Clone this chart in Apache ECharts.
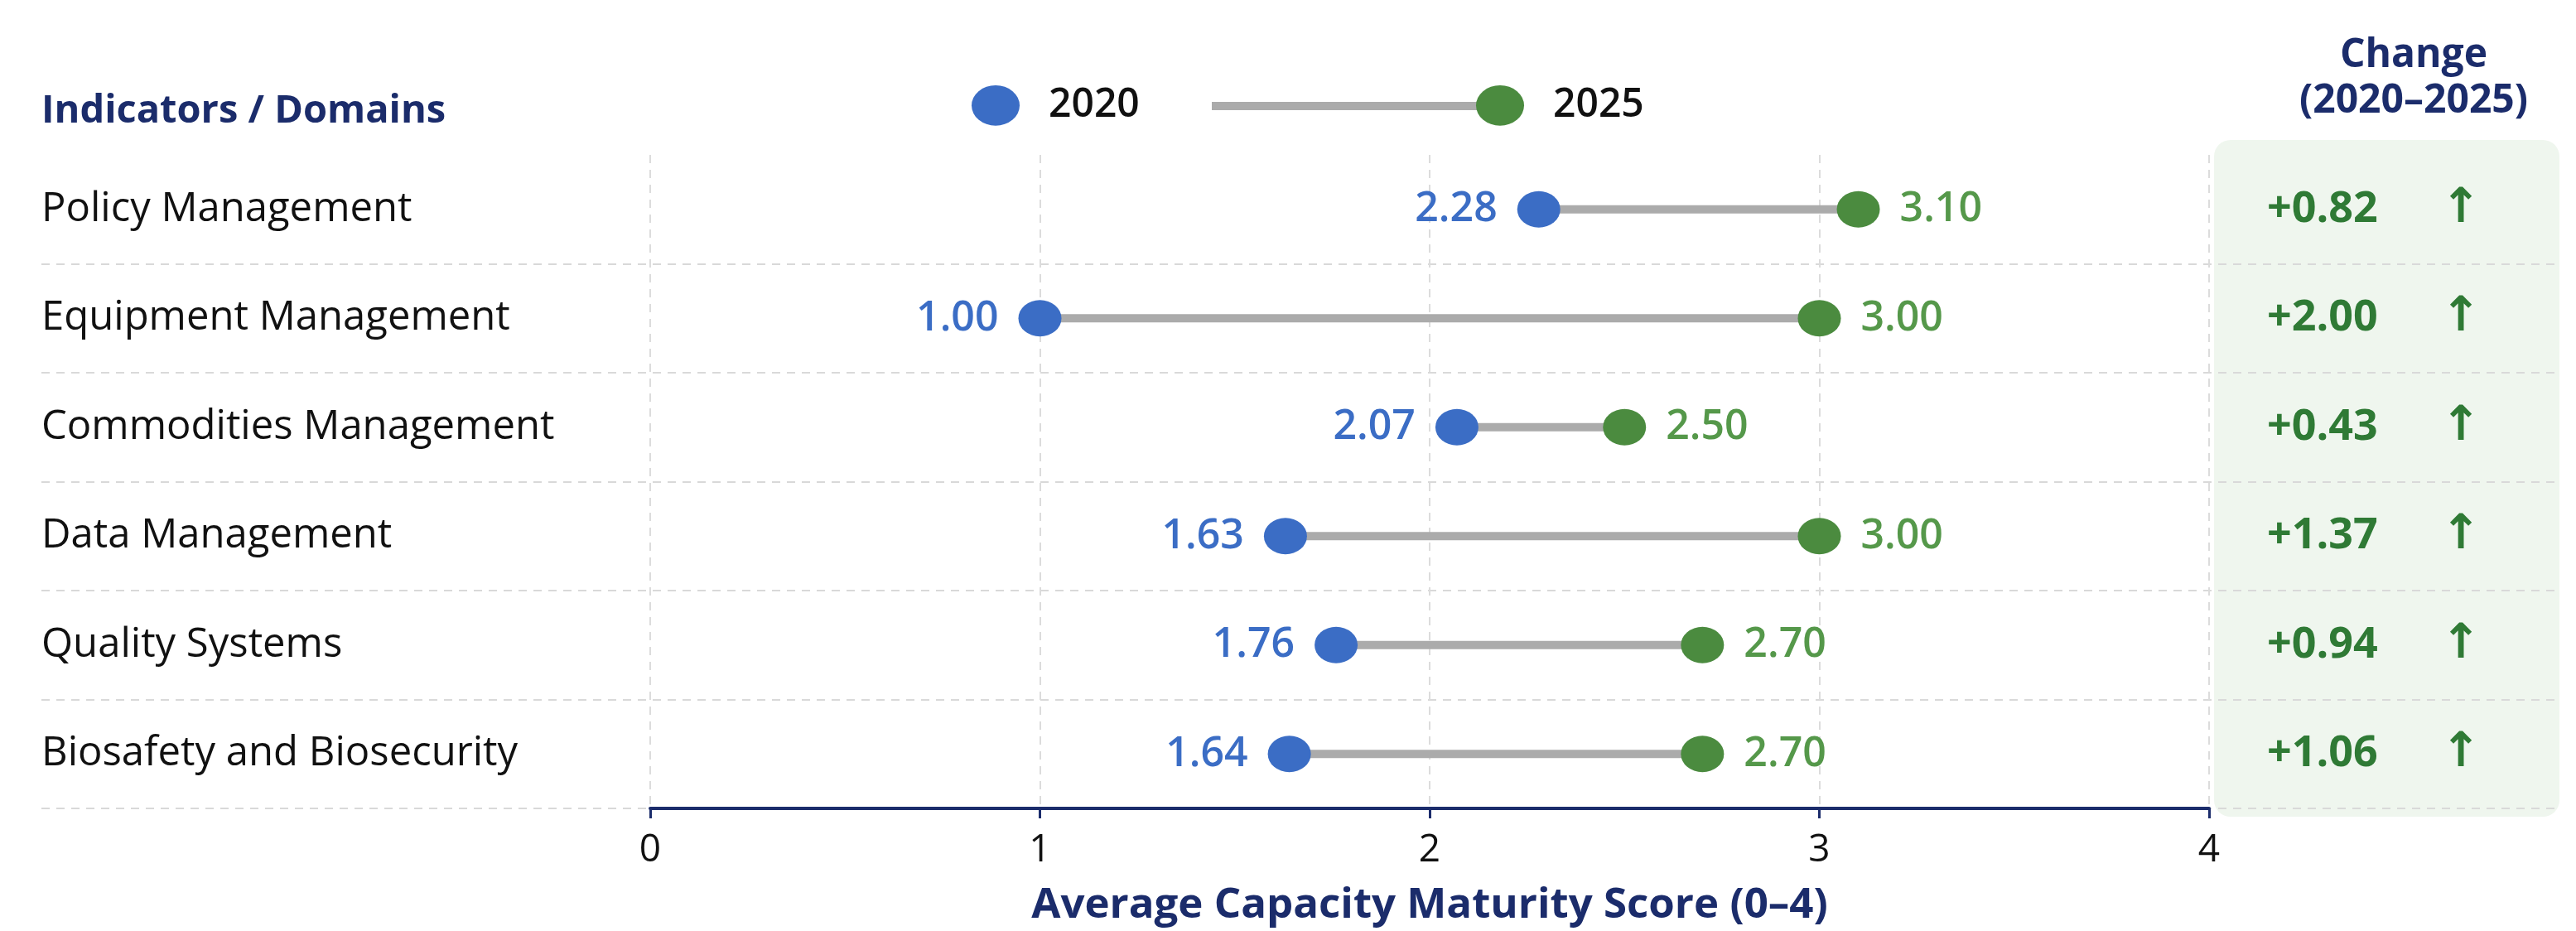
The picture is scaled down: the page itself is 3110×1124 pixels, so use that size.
<!DOCTYPE html>
<html><head><meta charset="utf-8">
<script src="https://cdn.jsdelivr.net/npm/echarts@6/dist/echarts.min.js"></script>
<style>html,body{margin:0;padding:0;background:#fff}#c{width:3110px;height:1124px}</style>
</head><body><div id="c"></div><script>
const categories = ['Policy Management','Equipment Management','Commodities Management','Data Management','Quality Systems','Biosafety and Biosecurity'];
const score2020 = [2.28, 1.00, 2.07, 1.63, 1.76, 1.64];
const score2025 = [3.10, 3.00, 2.50, 3.00, 2.70, 2.70];
const changeVals = [0.82, 2.00, 0.43, 1.37, 0.94, 1.06];
const axisMin = 0, axisMax = 4, axisInterval = 1;

const FONT = 'Open Sans';
const NAVY = '#1b2c6b';
const BLUE = '#3b6dc5';
const GREEN = '#4b8b3f';
const GREEN_LBL = '#55984a';
const CHG = '#2f7a35';
const GRAY = '#ababab';
const ELLIPSE = 'path://M0,21A25,21,0,1,1,50,21A25,21,0,1,1,0,21Z';

const chart = echarts.init(document.getElementById('c'), null, {renderer:'canvas'});
const option = {
  backgroundColor: '#ffffff',
  textStyle: {fontFamily: FONT},
  animation: false,
  graphic: [
    {type:'rect', left:2673, top:169, z:-1, shape:{width:417, height:817, r:20}, style:{fill:'#eff6ee'}},
    {type:'text', x:50, y:135, style:{text:'Indicators / Domains', fontFamily:FONT, fontSize:47, fontWeight:'bold', fill:NAVY, verticalAlign:'middle'}},
    {type:'text', x:2914, y:40, style:{text:'Change\n(2020–2025)', fontFamily:FONT, fontSize:48, fontWeight:'bold', fill:NAVY, align:'center', lineHeight:55}}
  ],
  legend: [
    {data:['2020'], left:1168, top:98, itemWidth:58, itemHeight:50, selectedMode:false,
     textStyle:{fontFamily:FONT, fontSize:48, color:'#111', fontWeight:600, padding:[0,0,0,30]}},
    {data:[{name:'range', icon:'rect'}], left:1458, top:118, itemWidth:330, itemHeight:10, selectedMode:false,
     formatter: () => '', textStyle:{fontSize:10}},
    {data:['2025'], left:1777, top:98, itemWidth:58, itemHeight:50, selectedMode:false,
     textStyle:{fontFamily:FONT, fontSize:48, color:'#111', fontWeight:600, padding:[0,0,0,30]}}
  ],
  grid: [
    {left:785, right:443, top:187, bottom:148},
    {left:50, right:20, top:187, bottom:148}
  ],
  xAxis: [
    {gridIndex:0, type:'value', min:axisMin, max:axisMax, interval:axisInterval,
     name:'Average Capacity Maturity Score (0–4)', nameLocation:'middle', nameGap:92,
     nameTextStyle:{fontFamily:FONT, fontSize:51, fontWeight:'bold', color:NAVY},
     axisLine:{show:true, lineStyle:{color:NAVY, width:4}},
     axisTick:{show:true, length:12, lineStyle:{color:NAVY, width:3}},
     axisLabel:{fontFamily:FONT, fontSize:46, color:'#111', margin:28},
     splitLine:{show:true, lineStyle:{color:'#dcdcdc', type:[10,8], width:2}}},
    {gridIndex:1, type:'value', show:false, min:0, max:1}
  ],
  yAxis: [
    {gridIndex:0, type:'category', data:categories, inverse:true,
     axisLine:{show:false}, axisTick:{show:false}, splitLine:{show:false},
     axisLabel:{align:'left', margin:735, fontFamily:FONT, fontSize:49, color:'#111'}},
    {gridIndex:0, type:'category', data:categories, inverse:true, position:'right',
     axisLine:{show:false}, axisTick:{show:false}, splitLine:{show:false},
     axisLabel:{align:'left', margin:70,
       formatter: (v, i) => '{v|+' + changeVals[i].toFixed(2) + '}{a|↑}',
       rich:{v:{fontFamily:FONT, fontSize:52, fontWeight:'bold', color:CHG},
             a:{fontFamily:'DejaVu Sans', fontSize:58, fontWeight:'bold', color:CHG, padding:[0,0,0,76]}}}},
    {gridIndex:1, type:'category', data:categories, inverse:true,
     axisLine:{show:false}, axisTick:{show:false}, axisLabel:{show:false},
     splitLine:{show:true, interval:(idx) => idx !== 0, lineStyle:{color:'#d9d9d9', type:[10,8], width:2}}}
  ],
  series: [
    {name:'range', type:'custom', xAxisIndex:0, yAxisIndex:0,
     itemStyle:{color:GRAY},
     encode:{x:[0,1], y:2},
     data: categories.map((c, i) => [score2020[i], score2025[i], i]),
     renderItem: (params, api) => {
       const a = api.coord([api.value(0), api.value(2)]);
       const b = api.coord([api.value(1), api.value(2)]);
       return {type:'line', shape:{x1:a[0], y1:a[1], x2:b[0], y2:b[1]}, style:{stroke:GRAY, lineWidth:10}};
     }, z:2},
    {name:'2020', type:'scatter', xAxisIndex:0, yAxisIndex:0, symbol:ELLIPSE, symbolSize:[52,44],
     itemStyle:{color:BLUE, opacity:1},
     data: categories.map((c, i) => [score2020[i], c]),
     label:{show:true, position:'left', distance:24, fontFamily:FONT, fontSize:50, fontWeight:600, color:BLUE,
            formatter: p => p.value[0].toFixed(2)}, z:3},
    {name:'2025', type:'scatter', xAxisIndex:0, yAxisIndex:0, symbol:ELLIPSE, symbolSize:[52,44],
     itemStyle:{color:GREEN, opacity:1},
     data: categories.map((c, i) => [score2025[i], c]),
     label:{show:true, position:'right', distance:24, fontFamily:FONT, fontSize:50, fontWeight:600, color:GREEN_LBL,
            formatter: p => p.value[0].toFixed(2)}, z:3}
  ]
};
chart.setOption(option);
</script></body></html>
